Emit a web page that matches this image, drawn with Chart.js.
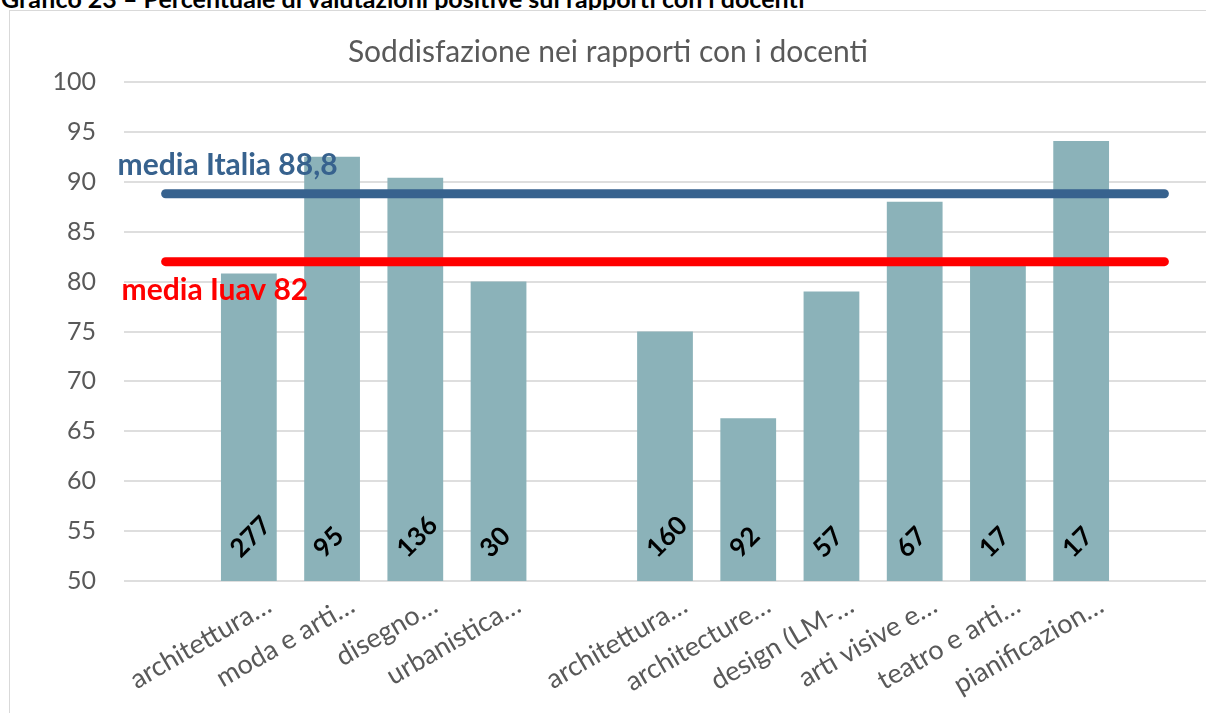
<!DOCTYPE html>
<html>
<head>
<meta charset="utf-8">
<script src="https://cdn.jsdelivr.net/npm/chart.js@4.4.0/dist/chart.umd.min.js"></script>
<style>
  html, body { margin: 0; padding: 0; background: #fff; overflow: hidden; width: 1206px; height: 713px; }
  #heading { position: absolute; left: 1px; top: -14px; font: bold 25px Lato, sans-serif; color: #000; white-space: nowrap; line-height: 24px; }
  #box { position: absolute; left: 9px; top: 10px; width: 1260px; height: 760px; border: 1px solid #d9d9d9; background: #fff; }
  #wrap { position: absolute; left: 0; top: 0; width: 1196px; height: 700px; }
</style>
</head>
<body>
<div id="heading">Grafico 23 – Percentuale di valutazioni positive sui rapporti con i docenti</div>
<div id="box">
  <div id="wrap"><canvas id="barChart"></canvas></div>
</div>
<script>
// categorie (slot vuoti ai lati e in mezzo come nel grafico originale)
const categories = ["", "architettura…", "moda e arti…", "disegno…", "urbanistica…", "",
  "architettura…", "architecture…", "design (LM-…", "arti visive e…", "teatro e arti…", "pianificazion…", ""];
// % valutazioni positive
const positivi = [null, 80.8, 92.5, 90.4, 80, null, 75, 66.3, 79, 88, 81.8, 94.1, null];
// numero di rispondenti
const rispondenti = [null, 277, 95, 136, 30, null, 160, 92, 57, 67, 17, 17, null];
const mediaItalia = 88.8;
const mediaIuav = 82;
const yTicks = { min: 50, max: 100, step: 5 };

const grey = "#595959";
const blu = "#37628e";
const rosso = "#ff0000";

// scritte: media sopra/sotto le linee + numeri dentro le barre
const labelsPlugin = {
  id: "labelsPlugin",
  afterDatasetsDraw(chart) {
    const ctx = chart.ctx;
    const x = chart.scales.x, y = chart.scales.y;
    ctx.save();
    // numeri ruotati nelle barre
    const meta = chart.getDatasetMeta(2);
    ctx.font = "bold 26px Lato";
    ctx.fillStyle = "#000";
    ctx.textAlign = "left";
    ctx.textBaseline = "middle";
    meta.data.forEach((bar, i) => {
      if (rispondenti[i] == null) return;
      ctx.save();
      ctx.translate(bar.x - 14, y.getPixelForValue(50) - 28);
      ctx.rotate(-Math.PI / 4);
      ctx.fillText(String(rispondenti[i]), 0, 0);
      ctx.restore();
    });
    // etichette medie
    const left = x.getPixelForValue(0) - 48;
    ctx.font = "bold 30px Lato";
    ctx.textBaseline = "alphabetic";
    ctx.fillStyle = blu;
    ctx.fillText("media Italia " + String(mediaItalia).replace(".", ","), left, y.getPixelForValue(mediaItalia) - 19);
    ctx.fillStyle = rosso;
    ctx.fillText("media Iuav " + mediaIuav, left + 4, y.getPixelForValue(mediaIuav) + 38);
    ctx.restore();
  }
};

var ctx = document.getElementById("barChart").getContext("2d");
var myChart = new Chart(ctx, {
  type: "bar",
  data: {
    labels: categories,
    datasets: [
      {
        type: "line",
        data: categories.map(() => mediaItalia),
        borderColor: blu,
        borderWidth: 9,
        borderCapStyle: "round",
        pointRadius: 0,
      },
      {
        type: "line",
        data: categories.map(() => mediaIuav),
        borderColor: rosso,
        borderWidth: 9,
        borderCapStyle: "round",
        pointRadius: 0,
      },
      {
        data: positivi,
        backgroundColor: "#8bb2b9",
        categoryPercentage: 1,
        barPercentage: 0.67,
      },
    ],
  },
  options: {
    responsive: true,
    maintainAspectRatio: false,
    animation: false,
    layout: { padding: 0 },
    plugins: {
      legend: { display: false },
      tooltip: { enabled: false },
      title: {
        display: true,
        text: "Soddisfazione nei rapporti con i docenti",
        color: grey,
        font: { family: "Lato", size: 30, weight: "normal" },
        padding: { top: 23, bottom: 12 },
      },
    },
    scales: {
      x: {
        grid: { display: false },
        border: { display: false },
        ticks: {
          color: grey,
          font: { family: "Lato", size: 27 },
          minRotation: 30,
          maxRotation: 30,
          autoSkip: false,
          padding: 0,
          labelOffset: 20,
        },
        afterFit(scale) { scale.height = 130; },
      },
      y: {
        min: yTicks.min,
        max: yTicks.max,
        grid: { color: "#dedede", lineWidth: 2, drawTicks: false },
        border: { display: false },
        ticks: {
          stepSize: yTicks.step,
          color: grey,
          font: { family: "Lato", size: 25 },
          padding: 28,
        },
        afterFit(scale) { scale.width = 114; },
      },
    },
  },
  plugins: [labelsPlugin],
});
</script>
</body>
</html>
